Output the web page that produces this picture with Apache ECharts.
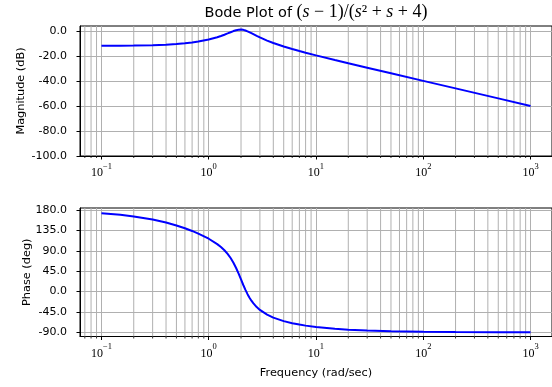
<!DOCTYPE html>
<html>
<head>
<meta charset="utf-8">
<script src="https://cdn.jsdelivr.net/npm/echarts@6/dist/echarts.min.js"></script>
<style>
    html, body { margin: 0; padding: 0; background: #fff; }
    #bode { width: 552px; height: 387px; }
</style>
</head>
<body>
<div id="bode"></div>
<script>
// frequency points (rad/sec)
var freq = [0.1, 0.15, 0.2, 0.3, 0.4, 0.5, 0.6, 0.7, 0.8, 1.0,
    1.2, 1.3, 1.4, 1.5, 1.6, 1.7, 1.8, 1.9, 2.0, 2.1,
    2.2, 2.3, 2.4, 2.5, 2.6, 2.8, 3, 3.5, 4, 5,
    6, 7, 8, 10, 15, 20, 30, 50, 100, 200,
    500, 1000];
// magnitude (dB)
var magDb = [-11.98, -11.90, -11.79, -11.49, -11.09, -10.59, -10.00, -9.34, -8.62, -6.99,
    -5.15, -4.17, -3.16, -2.13, -1.15, -0.25, 0.46, 0.88, 0.97, 0.72,
    0.22, -0.44, -1.17, -1.93, -2.68, -4.07, -5.31, -7.83, -9.74, -12.53,
    -14.57, -16.18, -17.51, -19.65, -23.37, -25.93, -29.50, -33.97, -40.00, -46.02,
    -53.98, -60.00];
// phase (deg)
var phaseDeg = [172.85, 169.31, 165.80, 158.91, 152.25, 145.84, 139.68, 133.73, 127.95, 116.57,
    104.69, 98.20, 91.08, 83.09, 74.00, 63.61, 51.95, 39.36, 26.57, 14.41,
    3.54, -5.79, -13.63, -20.19, -25.67, -34.26, -40.60, -51.07, -57.53, -65.30,
    -69.92, -73.03, -75.28, -78.34, -82.30, -84.25, -86.17, -87.71, -88.85, -89.43,
    -89.77, -89.89];
// y tick values
var magTicks = [-100, -80, -60, -40, -20, 0];
var phaseTicks = [-90, -45, 0, 45, 90, 135, 180];
// minor log ticks / grid lines
var minorTicks = [0.07, 0.08, 0.09,
    0.2, 0.3, 0.4, 0.5, 0.6, 0.7, 0.8, 0.9,
    2, 3, 4, 5, 6, 7, 8, 9,
    20, 30, 40, 50, 60, 70, 80, 90,
    200, 300, 400, 500, 600, 700, 800, 900];

var xMin = 0.0631, xMax = 1585;     // 10^-1.2 .. 10^3.2
var magMin = -100, magMax = 3.8;
var phMin = -99.3, phMax = 184.4;

var sansFont = 'DejaVu Sans';
var serifFont = 'Liberation Serif';
var gridColor = '#b0b0b0';

function pairs(xs, ys) {
    var out = [];
    for (var i = 0; i < xs.length; i++) {
        out.push([xs[i], ys[i]]);
    }
    return out;
}

// labels 10^k on the log axis
function logLabel(v) {
    var e = Math.log10(v);
    var k = Math.round(e);
    if (Math.abs(e - k) > 1e-6) return '';
    var s = k < 0 ? '\u2212' + (-k) : '' + k;
    return '{b|10}{s|' + s + '}';
}

function xAxisCfg(idx, name) {
    return {
        type: 'log',
        logBase: 10,
        gridIndex: idx,
        min: xMin,
        max: xMax,
        name: name,
        nameLocation: 'middle',
        nameGap: 31,
        nameMoveOverlap: false,
        nameTextStyle: { fontFamily: sansFont, fontSize: 11.3, color: '#000' },
        axisLine: { show: true, onZero: false, lineStyle: { color: '#000', width: 1 } },
        axisTick: { show: true, inside: false, length: 3.5, lineStyle: { color: '#000', width: 1 } },
        axisLabel: {
            margin: 6,
            showMinLabel: false,
            showMaxLabel: false,
            formatter: logLabel,
            rich: {
                b: { fontFamily: serifFont, fontSize: 12, color: '#000', verticalAlign: 'bottom', lineHeight: 17 },
                s: { fontFamily: serifFont, fontSize: 8.5, color: '#000', verticalAlign: 'top' }
            }
        },
        splitLine: { show: true, lineStyle: { color: gridColor, width: 1 } }
    };
}

function yAxisCfg(idx, name, min, max, ticks, gap) {
    return {
        type: 'value',
        gridIndex: idx,
        min: min,
        max: max,
        name: name,
        nameLocation: 'middle',
        nameGap: gap,
        nameMoveOverlap: false,
        nameRotate: 90,
        nameTextStyle: { fontFamily: sansFont, fontSize: 11.3, color: '#000' },
        axisLine: { show: true, onZero: false, lineStyle: { color: '#000', width: 1 } },
        axisTick: { show: true, inside: false, length: 3.5, customValues: ticks, lineStyle: { color: '#000', width: 1 } },
        axisLabel: {
            margin: 13,
            customValues: ticks,
            fontFamily: sansFont,
            fontSize: 11,
            color: '#000',
            formatter: function (v) { return v.toFixed(1); }
        },
        splitLine: { show: true, lineStyle: { color: gridColor, width: 1 } }
    };
}

// minor grid lines + minor ticks, drawn through the axis scales
function minorSeries(idx, yLo, yHi) {
    return {
        type: 'custom',
        xAxisIndex: idx,
        yAxisIndex: idx,
        z: 1,
        silent: true,
        animation: false,
        data: minorTicks.map(function (v) { return [v, yLo]; }),
        renderItem: function (params, api) {
            var lo = api.coord([api.value(0), yLo]);
            var hi = api.coord([api.value(0), yHi]);
            return {
                type: 'group',
                children: [{
                    type: 'line',
                    shape: { x1: lo[0], y1: lo[1], x2: hi[0], y2: hi[1] },
                    style: { stroke: gridColor, lineWidth: 1 }
                }, {
                    type: 'line',
                    shape: { x1: lo[0], y1: lo[1], x2: lo[0], y2: lo[1] + 2 },
                    style: { stroke: '#000', lineWidth: 0.8 }
                }]
            };
        }
    };
}

function curveSeries(idx, data) {
    return {
        type: 'line',
        xAxisIndex: idx,
        yAxisIndex: idx,
        z: 3,
        data: data,
        showSymbol: false,
        symbol: 'none',
        smooth: false,
        animation: false,
        lineStyle: { color: '#0000ff', width: 2 }
    };
}

var chart = echarts.init(document.getElementById('bode'), null, { renderer: 'canvas' });
chart.setOption({
    backgroundColor: '#ffffff',
    animation: false,
    graphic: [{
        type: 'text',
        x: 316,
        y: 12,
        style: {
            text: '{a|Bode Plot of }{m|(}{i|s}{m| \u2212 1)/(}{i|s}{m|\u00b2 + }{i|s}{m| + 4)}',
            align: 'center',
            verticalAlign: 'middle',
            rich: {
                a: { fontFamily: sansFont, fontSize: 14.5, fill: '#000', verticalAlign: 'bottom' },
                m: { fontFamily: serifFont, fontSize: 18, fill: '#000', verticalAlign: 'bottom' },
                i: { fontFamily: serifFont, fontSize: 18, fontStyle: 'italic', fill: '#000', verticalAlign: 'bottom' }
            }
        }
    }],
    grid: [
        { left: 80, top: 26, width: 482, height: 130, show: true, borderColor: '#000', borderWidth: 1 },
        { left: 80, top: 208, width: 482, height: 128.5, show: true, borderColor: '#000', borderWidth: 1 }
    ],
    xAxis: [
        xAxisCfg(0, ''),
        xAxisCfg(1, 'Frequency (rad/sec)')
    ],
    yAxis: [
        yAxisCfg(0, 'Magnitude (dB)', magMin, magMax, magTicks, 53),
        yAxisCfg(1, 'Phase (deg)', phMin, phMax, phaseTicks, 47)
    ],
    series: [
        minorSeries(0, magMin, magMax),
        minorSeries(1, phMin, phMax),
        curveSeries(0, pairs(freq, magDb)),
        curveSeries(1, pairs(freq, phaseDeg))
    ]
});
</script>
</body>
</html>
